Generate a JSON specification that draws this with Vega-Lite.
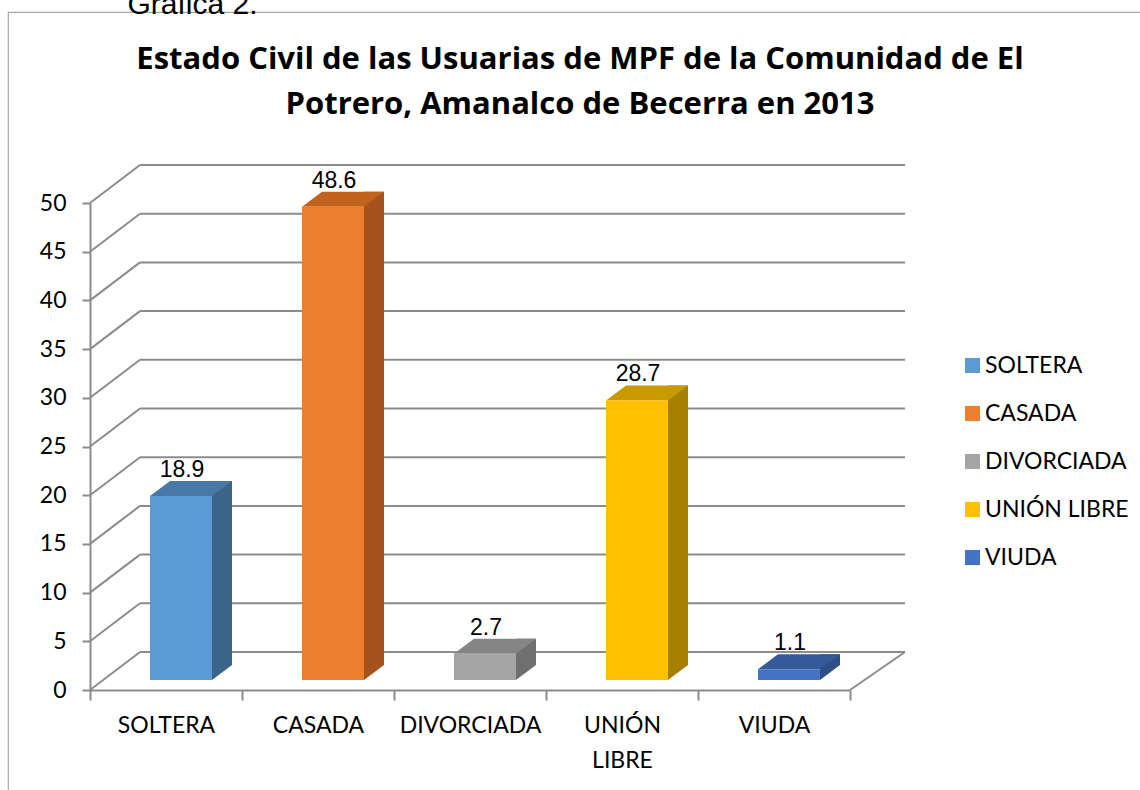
{
  "$schema": "https://vega.github.io/schema/vega-lite/v6.json",
  "width": 1140,
  "height": 790,
  "autosize": "none",
  "padding": {"left": 8, "top": 12, "right": 0, "bottom": 0},
  "background": "white",
  "title": {
    "text": ["Estado Civil de las Usuarias de MPF de la Comunidad de El", "Potrero, Amanalco de Becerra en 2013"],
    "font": "Open Sans",
    "fontSize": 31,
    "fontWeight": "bold",
    "color": "#000000",
    "lineHeight": 45,
    "anchor": "middle",
    "baseline": "top",
    "offset": 0,
    "dx": 2,
    "dy": 132
  },
  "config": {
    "view": {"stroke": "#a6a6a6", "strokeWidth": 1.2},
    "axis": {"labelColor": "#000000", "titleColor": "#000000"}
  },
  "datasets": {
    "bars": [
      {"categoria": "SOLTERA", "porcentaje": 18.9},
      {"categoria": "CASADA", "porcentaje": 48.6},
      {"categoria": "DIVORCIADA", "porcentaje": 2.7},
      {"categoria": "UNIÓN LIBRE", "porcentaje": 28.7},
      {"categoria": "VIUDA", "porcentaje": 1.1}
    ],
    "ticks": [
      {"v": 0}, {"v": 5}, {"v": 10}, {"v": 15}, {"v": 20}, {"v": 25},
      {"v": 30}, {"v": 35}, {"v": 40}, {"v": 45}, {"v": 50}
    ]
  },
  "resolve": {"scale": {"color": "independent"}},
  "layer": [
    {
      "data": {"name": "ticks"},
      "mark": {"type": "rule", "color": "#8c8c8c", "strokeWidth": 2, "yOffset": -38, "y2Offset": -38},
      "encoding": {
        "y": {"field": "v", "type": "quantitative", "scale": {"domain": [0, 50], "range": [678, 191], "nice": false}},
        "y2": {"field": "v"},
        "x": {"value": 132},
        "x2": {"value": 897}
      }
    },
    {
      "data": {"name": "ticks"},
      "mark": {"type": "rule", "color": "#8c8c8c", "strokeWidth": 2, "y2Offset": -38},
      "encoding": {
        "y": {"field": "v", "type": "quantitative", "scale": {"domain": [0, 50], "range": [678, 191], "nice": false}},
        "y2": {"field": "v"},
        "x": {"value": 82},
        "x2": {"value": 132}
      }
    },
    {
      "data": {"values": [{"v": 0}]},
      "mark": {"type": "rule", "color": "#8c8c8c", "strokeWidth": 2, "y2Offset": -38},
      "encoding": {
        "y": {"field": "v", "type": "quantitative", "scale": {"domain": [0, 50], "range": [678, 191], "nice": false}},
        "y2": {"field": "v"},
        "x": {"value": 842},
        "x2": {"value": 897}
      }
    },
    {
      "data": {"name": "bars"},
      "mark": {"type": "bar", "width": 20, "xOffset": 56, "yOffset": -25, "y2Offset": -25},
      "encoding": {
        "x": {"field": "categoria", "type": "nominal", "sort": null, "scale": {"domain": ["SOLTERA", "CASADA", "DIVORCIADA", "UNIÓN LIBRE", "VIUDA"], "range": [82, 842], "paddingInner": 0, "paddingOuter": 0}},
        "y": {"field": "porcentaje", "type": "quantitative", "scale": {"domain": [0, 50], "range": [678, 191], "nice": false}},
        "color": {"field": "categoria", "type": "nominal", "legend": null, "scale": {"domain": ["SOLTERA", "CASADA", "DIVORCIADA", "UNIÓN LIBRE", "VIUDA"], "range": ["#3b6489", "#a5531d", "#6f6f6f", "#a88000", "#2e4e87"]}}
      }
    },
    {
      "data": {"name": "bars"},
      "mark": {"type": "point", "filled": true, "opacity": 1, "strokeWidth": 0, "size": 400, "xOffset": 56, "yOffset": -17.5, "shape": "M-1,0.75L1,-0.75L-1,-0.75Z"},
      "encoding": {
        "x": {"field": "categoria", "type": "nominal", "sort": null},
        "y": {"datum": 0, "type": "quantitative"},
        "color": {"field": "categoria", "type": "nominal", "legend": null, "scale": {"domain": ["SOLTERA", "CASADA", "DIVORCIADA", "UNIÓN LIBRE", "VIUDA"], "range": ["#3b6489", "#a5531d", "#6f6f6f", "#a88000", "#2e4e87"]}}
      }
    },
    {
      "data": {"name": "bars"},
      "mark": {"type": "point", "filled": true, "opacity": 1, "strokeWidth": 0, "size": 6724, "xOffset": 25, "yOffset": -17.5, "shape": "M-1,0.183L-0.512,-0.183L1,-0.183L0.512,0.183Z"},
      "encoding": {
        "x": {"field": "categoria", "type": "nominal", "sort": null},
        "y": {"field": "porcentaje", "type": "quantitative"},
        "color": {"field": "categoria", "type": "nominal", "legend": null, "scale": {"domain": ["SOLTERA", "CASADA", "DIVORCIADA", "UNIÓN LIBRE", "VIUDA"], "range": ["#4878a6", "#c2621f", "#858585", "#c99a00", "#36599a"]}}
      }
    },
    {
      "data": {"name": "bars"},
      "mark": {"type": "bar", "width": 62, "xOffset": 15, "yOffset": -10, "y2Offset": -10},
      "encoding": {
        "x": {
          "field": "categoria", "type": "nominal", "sort": null,
          "axis": {
            "orient": "bottom", "offset": -112, "title": null, "labelAngle": 0, "labelAlign": "center",
            "domainColor": "#8c8c8c", "domainWidth": 2,
            "tickColor": "#8c8c8c", "tickWidth": 2, "tickSize": 10, "tickBand": "extent",
            "labelFont": "Lato", "labelFontSize": 23, "labelPadding": 14, "labelBaseline": "top",
            "labelLineHeight": 35,
            "labelExpr": "datum.label == 'UNIÓN LIBRE' ? ['UNIÓN', 'LIBRE'] : datum.label"
          }
        },
        "y": {
          "field": "porcentaje", "type": "quantitative",
          "axis": {
            "orient": "left", "offset": -82, "grid": false,
            "values": [0, 5, 10, 15, 20, 25, 30, 35, 40, 45, 50],
            "domainColor": "#8c8c8c", "domainWidth": 2,
            "tickColor": "#8c8c8c", "tickWidth": 2, "tickSize": 8,
            "labelFont": "Lato", "labelFontSize": 23, "labelPadding": 16,
            "title": "Gráfica 2.", "titleAngle": 0, "titleX": 37, "titleY": 1,
            "titleAlign": "left", "titleBaseline": "alphabetic",
            "titleFont": "Liberation Sans", "titleFontSize": 30, "titleFontWeight": "normal"
          }
        },
        "color": {
          "field": "categoria", "type": "nominal",
          "scale": {"domain": ["SOLTERA", "CASADA", "DIVORCIADA", "UNIÓN LIBRE", "VIUDA"], "range": ["#5b9bd5", "#ed7d31", "#a5a5a5", "#ffc000", "#4472c4"]},
          "legend": {
            "orient": "none", "legendX": 953, "legendY": 342, "title": null, "padding": 0,
            "symbolType": "square", "symbolSize": 225, "symbolStrokeWidth": 0,
            "labelFont": "Lato", "labelFontSize": 23, "labelColor": "#000000", "labelOffset": 1,
            "rowPadding": 24
          }
        }
      }
    },
    {
      "data": {"name": "bars"},
      "mark": {"type": "text", "font": "Liberation Sans", "fontSize": 23, "color": "#000000", "baseline": "alphabetic", "align": "center", "xOffset": 16, "yOffset": -29},
      "encoding": {
        "x": {"field": "categoria", "type": "nominal", "sort": null},
        "y": {"field": "porcentaje", "type": "quantitative"},
        "text": {"field": "porcentaje", "type": "quantitative", "format": ".1f"}
      }
    }
  ]
}
